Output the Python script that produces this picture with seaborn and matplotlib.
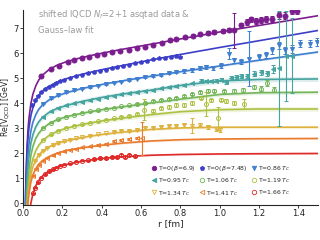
import numpy as np
import pandas as pd
import matplotlib
matplotlib.use("Agg")
import matplotlib.pyplot as plt
import seaborn as sns
from matplotlib.lines import Line2D

# ==========================================
# DATA
# ==========================================
# Gauss-law fit curves, sampled at R_FIT [fm] -> Re[V] [GeV]
R_FIT = [0.012, 0.015, 0.02, 0.025, 0.03, 0.04, 0.05, 0.065, 0.08, 0.1, 0.13, 0.17,
         0.22, 0.3, 0.4, 0.5, 0.65, 0.8, 1.0, 1.2, 1.5]
FIT_B69 = [-0.17, 1.01, 2.20, 2.92, 3.40, 4.00, 4.37, 4.71, 4.94, 5.14, 5.34, 5.52,
           5.67, 5.84, 6.01, 6.16, 6.37, 6.58, 6.86, 7.12, 7.51]
FIT_B748 = [-0.02, 0.99, 1.99, 2.60, 3.01, 3.52, 3.83, 4.13, 4.32, 4.50, 4.68, 4.84,
            4.99, 5.17, 5.35, 5.51, 5.74, 5.96, 6.24, 6.51, 6.92]
FIT_086 = [-0.91, 0.18, 1.26, 1.92, 2.36, 2.91, 3.25, 3.56, 3.77, 3.95, 4.13, 4.29,
           4.43, 4.60, 4.76, 4.90, 5.09, 5.27, 5.50, 5.73, 6.06]
FIT_095 = [-1.40, -0.32, 0.77, 1.43, 1.86, 2.42, 2.75, 3.07, 3.27, 3.45, 3.63, 3.79,
           3.92, 4.08, 4.24, 4.37, 4.53, 4.72, 4.90, 4.96, 4.98]
FIT_106 = [-2.06, -0.92, 0.22, 0.90, 1.36, 1.93, 2.28, 2.61, 2.81, 3.00, 3.18, 3.34,
           3.47, 3.61, 3.75, 3.86, 4.02, 4.17, 4.36, 4.43, 4.45]
FIT_119 = [-2.57, -1.42, -0.28, 0.41, 0.86, 1.44, 1.79, 2.12, 2.33, 2.52, 2.71, 2.87,
           3.01, 3.16, 3.30, 3.41, 3.55, 3.67, 3.75, 3.78, 3.78]
FIT_134 = [-2.37, -1.36, -0.36, 0.25, 0.65, 1.16, 1.47, 1.75, 1.94, 2.10, 2.26, 2.40,
           2.51, 2.64, 2.76, 2.85, 2.96, 3.02, 3.05, 3.05, 3.05]
FIT_141 = [-2.38, -1.46, -0.54, 0.02, 0.39, 0.86, 1.14, 1.40, 1.57, 1.72, 1.87, 2.00,
           2.12, 2.23, 2.33, 2.41, 2.50, 2.55, 2.58, 2.59, 2.60]
FIT_166 = [-4.08, -2.92, -1.75, -1.05, -0.57, 0.02, 0.38, 0.71, 0.92, 1.11, 1.29, 1.44,
           1.56, 1.69, 1.80, 1.87, 1.93, 1.96, 1.98, 1.99, 2.00]

# lattice data: r [fm], Re[V] [GeV], error [GeV]
R_B69 = [0.092, 0.143, 0.185, 0.227, 0.260, 0.302, 0.336, 0.378, 0.411, 0.453, 0.495,
         0.537, 0.579, 0.621, 0.663, 0.705, 0.747, 0.780, 0.822, 0.864, 0.898, 0.940,
         0.973, 1.015, 1.049, 1.071, 1.108, 1.138, 1.158, 1.183, 1.208, 1.234, 1.267,
         1.301, 1.334, 1.368, 1.393]
V_B69 = [5.09, 5.38, 5.51, 5.65, 5.72, 5.80, 5.86, 5.93, 5.99, 6.05, 6.10, 6.15, 6.21,
         6.27, 6.33, 6.42, 6.52, 6.57, 6.64, 6.70, 6.76, 6.81, 6.85, 6.89, 6.95, 6.93,
         7.12, 7.26, 7.36, 7.28, 7.32, 7.39, 7.36, 7.52, 7.50, 7.68, 7.68]
E_B69 = [0.02, 0.02, 0.02, 0.02, 0.02, 0.02, 0.02, 0.02, 0.02, 0.03, 0.03, 0.03, 0.03,
         0.04, 0.04, 0.04, 0.05, 0.05, 0.05, 0.06, 0.06, 0.07, 0.07, 0.08, 0.08, 0.70,
         0.10, 0.12, 0.10, 0.12, 0.12, 0.12, 0.12, 0.14, 0.14, 0.10, 0.10]

R_B748 = [0.045, 0.06, 0.075, 0.09, 0.11, 0.13, 0.15, 0.17, 0.19, 0.21, 0.24, 0.27,
          0.30, 0.33, 0.36, 0.39, 0.42, 0.45, 0.48, 0.51, 0.54, 0.57, 0.60, 0.63, 0.66,
          0.69, 0.72, 0.75, 0.78, 0.80]
V_B748 = [3.95, 4.12, 4.30, 4.44, 4.57, 4.66, 4.75, 4.83, 4.90, 4.95, 5.03, 5.09, 5.15,
          5.20, 5.25, 5.31, 5.35, 5.40, 5.44, 5.49, 5.55, 5.60, 5.64, 5.70, 5.76, 5.80,
          5.83, 5.86, 5.88, 5.85]
E_B748 = [0.02] * 20 + [0.03] * 6 + [0.04] * 4

R_086 = [0.10, 0.14, 0.18, 0.22, 0.26, 0.30, 0.34, 0.38, 0.42, 0.46, 0.50, 0.54, 0.58,
         0.62, 0.66, 0.70, 0.74, 0.78, 0.82, 0.86, 0.90, 0.932, 0.965, 1.007, 1.049,
         1.074, 1.108, 1.150, 1.200, 1.234, 1.267, 1.301, 1.334, 1.368, 1.410, 1.460,
         1.494]
V_086 = [3.98, 4.20, 4.33, 4.44, 4.52, 4.58, 4.64, 4.70, 4.77, 4.82, 4.87, 4.93, 4.99,
         5.05, 5.10, 5.14, 5.21, 5.24, 5.28, 5.33, 5.42, 5.45, 5.41, 5.51, 5.98, 5.72,
         5.67, 5.78, 5.85, 5.92, 6.12, 6.32, 6.12, 6.18, 6.39, 6.39, 6.45]
E_086 = [0.02] * 12 + [0.03] * 6 + [0.05, 0.06, 0.08, 0.08, 0.08, 0.10, 0.22, 0.10,
                                     0.10, 1.10, 0.12, 0.12, 0.15, 0.15, 0.15, 0.15,
                                     0.15, 0.15, 0.15]

R_095 = [0.10, 0.14, 0.18, 0.22, 0.26, 0.30, 0.34, 0.38, 0.42, 0.46, 0.50, 0.54, 0.58,
         0.62, 0.66, 0.70, 0.74, 0.78, 0.82, 0.86, 0.906, 0.932, 0.957, 0.982, 1.007,
         1.032, 1.057, 1.083, 1.108, 1.141, 1.175, 1.208, 1.242, 1.272, 1.300, 1.335,
         1.365]
V_095 = [3.47, 3.68, 3.82, 3.93, 4.01, 4.07, 4.13, 4.19, 4.25, 4.30, 4.36, 4.41, 4.45,
         4.50, 4.54, 4.60, 4.66, 4.70, 4.73, 4.80, 4.91, 4.89, 4.89, 4.91, 4.94, 4.85,
         5.01, 5.05, 5.09, 5.11, 5.18, 5.25, 5.21, 5.38, 5.40, 5.90, 5.90]
E_095 = [0.02] * 14 + [0.03] * 6 + [0.05, 0.05, 0.05, 0.06, 0.06, 0.06, 0.07, 0.08,
                                     0.08, 0.08, 0.10, 0.10, 0.10, 0.15, 2.30, 1.80,
                                     1.50]

R_106 = [0.10, 0.14, 0.18, 0.22, 0.26, 0.30, 0.34, 0.38, 0.42, 0.46, 0.50, 0.54, 0.58,
         0.62, 0.66, 0.70, 0.74, 0.78, 0.82, 0.86, 0.90, 0.94, 0.973, 1.02, 1.074,
         1.12, 1.175, 1.21, 1.242, 1.275]
V_106 = [3.02, 3.22, 3.36, 3.47, 3.55, 3.62, 3.68, 3.72, 3.78, 3.83, 3.88, 3.93, 3.99,
         4.02, 4.08, 4.15, 4.18, 4.22, 4.30, 4.36, 4.45, 4.50, 4.51, 4.48, 4.51, 4.55,
         4.65, 4.58, 4.81, 4.55]
E_106 = [0.02] * 12 + [0.04] * 8 + [0.06, 0.06, 0.07, 0.07, 0.08, 0.08, 0.08, 0.10,
                                    0.12, 0.10]

R_119 = [0.10, 0.14, 0.18, 0.22, 0.26, 0.30, 0.34, 0.38, 0.42, 0.46, 0.50, 0.54, 0.58,
         0.613, 0.66, 0.70, 0.74, 0.78, 0.82, 0.86, 0.906, 0.932, 0.957, 0.99, 1.007,
         1.032, 1.074, 1.125]
V_119 = [2.55, 2.76, 2.90, 3.02, 3.10, 3.17, 3.23, 3.28, 3.34, 3.40, 3.45, 3.51, 3.58,
         3.75, 3.70, 3.80, 3.86, 3.92, 3.95, 4.00, 4.22, 3.98, 4.12, 3.40, 4.14, 4.08,
         4.02, 3.98]
E_119 = [0.02] * 10 + [0.04, 0.04, 0.05, 0.42, 0.06, 0.06, 0.08, 0.08, 0.08, 0.08,
                       0.05, 0.48, 0.06, 0.45, 0.06, 0.08, 0.08, 0.20]

R_134 = [0.06, 0.08, 0.10, 0.12, 0.15, 0.18, 0.21, 0.24, 0.27, 0.30, 0.34, 0.38, 0.42,
         0.46, 0.50, 0.54, 0.58, 0.62, 0.66, 0.70, 0.74, 0.78, 0.82, 0.86, 0.90, 0.94,
         0.98, 1.00]
V_134 = [1.70, 1.95, 2.10, 2.22, 2.33, 2.40, 2.48, 2.55, 2.60, 2.64, 2.70, 2.76, 2.81,
         2.86, 2.90, 2.91, 2.95, 3.00, 3.02, 3.06, 3.10, 3.08, 3.12, 3.10, 3.14, 3.05,
         2.96, 2.95]
E_134 = [0.02] * 14 + [0.04] * 8 + [0.06, 0.30, 0.06, 0.06, 0.08, 0.08]

R_141 = [0.05, 0.065, 0.08, 0.10, 0.12, 0.15, 0.18, 0.21, 0.24, 0.27, 0.30, 0.34, 0.38,
         0.42, 0.46, 0.50, 0.54, 0.58, 0.604]
V_141 = [1.10, 1.38, 1.55, 1.70, 1.82, 1.93, 2.02, 2.08, 2.14, 2.19, 2.24, 2.28, 2.33,
         2.39, 2.48, 2.52, 2.58, 2.62, 2.60]
E_141 = [0.02] * 12 + [0.04] * 6 + [0.66]

R_166 = [0.05, 0.06, 0.075, 0.09, 0.11, 0.13, 0.15, 0.17, 0.19, 0.21, 0.24, 0.27, 0.30,
         0.33, 0.36, 0.39, 0.42, 0.45, 0.48, 0.50, 0.52, 0.54, 0.57]
V_166 = [0.40, 0.62, 0.85, 1.02, 1.17, 1.28, 1.36, 1.43, 1.50, 1.55, 1.60, 1.66, 1.70,
         1.73, 1.76, 1.80, 1.82, 1.87, 1.86, 1.92, 1.85, 1.95, 1.90]
E_166 = [0.02] * 14 + [0.04] * 9

LABELS = ["T=0($\\beta$=6.9)", "T=0($\\beta$=7.48)", "T=0.86$\\,T_C$",
          "T=0.95$\\,T_C$", "T=1.06$\\,T_C$", "T=1.19$\\,T_C$",
          "T=1.34$\\,T_C$", "T=1.41$\\,T_C$", "T=1.66$\\,T_C$"]

# ==========================================
# STYLE
# ==========================================
COLORS = ["#7b1d8e", "#3d3ec8", "#3f7fcf", "#45a3a0", "#74b659",
          "#adc143", "#ddb23e", "#ea7b2e", "#de2a28"]
MARKERS = ["o", "p", "v", "<", "o", "o", "v", "<", "o"]
FILLED = [True, True, True, True, False, False, False, False, False]
BAND_HW = [0.0, 0.0, 0.04, 0.10, 0.07, 0.09, 0.05, 0.04, 0.03]

fits = [FIT_B69, FIT_B748, FIT_086, FIT_095, FIT_106, FIT_119, FIT_134, FIT_141, FIT_166]
data = [(R_B69, V_B69, E_B69), (R_B748, V_B748, E_B748), (R_086, V_086, E_086),
        (R_095, V_095, E_095), (R_106, V_106, E_106), (R_119, V_119, E_119),
        (R_134, V_134, E_134), (R_141, V_141, E_141), (R_166, V_166, E_166)]

sns.set_theme(style="ticks")
plt.rcParams["font.family"] = ["DejaVu Sans"]
plt.rcParams["mathtext.fontset"] = "dejavusans"

fig = plt.figure(figsize=(3.2, 2.4), dpi=100)
ax = fig.add_axes([0.072, 0.146, 0.922, 0.8125])

# ==========================================
# PLOT
# ==========================================
for i in range(len(fits)):
    df_fit = pd.DataFrame({"r": R_FIT, "V": fits[i]})
    if BAND_HW[i] > 0:
        ax.fill_between(df_fit["r"], df_fit["V"] - BAND_HW[i], df_fit["V"] + BAND_HW[i],
                        color=COLORS[i], alpha=0.18, lw=0)
    sns.lineplot(data=df_fit, x="r", y="V", color=COLORS[i], lw=1.2, sort=False,
                 estimator=None, ax=ax, zorder=3)

for i in range(len(data)):
    r, v, e = data[i]
    ms = 3.6 if i == 0 else 2.9
    ax.errorbar(r, v, yerr=e, fmt=MARKERS[i], ms=ms, color=COLORS[i],
                mfc=COLORS[i] if FILLED[i] else "none", mec=COLORS[i], mew=0.7,
                elinewidth=0.8, capsize=1.2, capthick=0.7, zorder=4)

ax.set_xlim(0, 1.5)
ax.set_ylim(-0.06, 7.74)
ax.set_xticks([0.0, 0.2, 0.4, 0.6, 0.8, 1.0, 1.2, 1.4])
ax.set_xticklabels(["0.0", "0.2", "0.4", "0.6", "0.8", "1.0", "1.2", "1.4"])
ax.set_yticks(range(0, 8))
ax.tick_params(labelsize=6.0, length=2, width=0.6, pad=1.0, colors="#222222")
for side in ["left", "bottom"]:
    ax.spines[side].set_linewidth(0.8)
sns.despine(ax=ax)

ax.set_xlabel("r [fm]", fontsize=6.5, labelpad=1)
ax.set_ylabel("Re[V$_{\\mathregular{QCD}}$] [GeV]", fontsize=5.6, va="center")
ax.yaxis.set_label_coords(-0.058, 0.5)

ax.text(0.05, 0.975, "shifted lQCD $N_f$=2+1 asqtad data &", transform=ax.transAxes,
        fontsize=6.0, color="#9a9a9a", va="center", ha="left")
ax.text(0.05, 0.895, "Gauss\u2013law fit", transform=ax.transAxes,
        fontsize=6.0, color="#9a9a9a", va="center", ha="left")

# legend: 3 x 3, filled row by row
handles = []
for i in range(len(LABELS)):
    handles.append(Line2D([], [], ls="none", marker=MARKERS[i], ms=3.2,
                          color=COLORS[i], mec=COLORS[i],
                          mfc=COLORS[i] if FILLED[i] else "none", mew=0.6))
order = [0, 3, 6, 1, 4, 7, 2, 5, 8]
ax.legend([handles[k] for k in order], [LABELS[k] for k in order], ncol=3,
          loc="upper left", bbox_to_anchor=(0.435, 0.21), frameon=False,
          fontsize=4.4, handlelength=0.9, handletextpad=0.25, columnspacing=0.5,
          labelspacing=0.55, borderpad=0, borderaxespad=0)

fig.savefig("out.png", dpi=100)
